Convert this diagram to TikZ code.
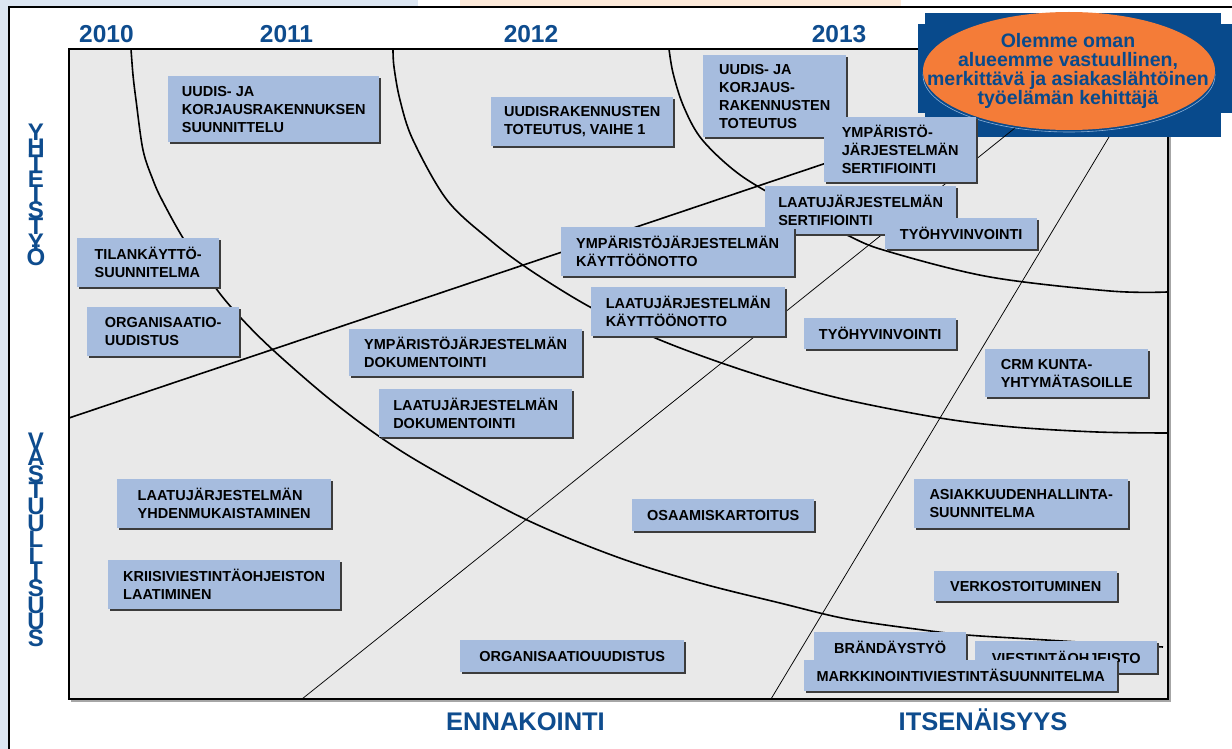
\documentclass[tikz,border=0pt]{standalone}
\usepackage{fontspec}
\setmainfont{Liberation Sans}
\usetikzlibrary{shadows}
\definecolor{bgblue}{RGB}{220,230,242}
\definecolor{bgorange}{RGB}{253,234,218}
\definecolor{plotgray}{RGB}{233,233,233}
\definecolor{boxfill}{RGB}{166,188,222}
\definecolor{boxshadow}{RGB}{60,60,60}
\definecolor{titleblue}{RGB}{14,76,142}
\definecolor{callblue}{RGB}{8,74,140}
\definecolor{callorange}{RGB}{244,124,56}
\definecolor{rimblue}{RGB}{140,176,214}
\newcommand\boxfont{\fontsize{14.5}{18}\selectfont\bfseries}
\newcommand\mkbox[6]{\node[tbox, minimum width={(#4-#2)*1pt}, minimum height={(#5-#3)*1pt}] (#1) at (#2,#3) {#6};}
\begin{document}
\begin{tikzpicture}[x=1pt,y=-1pt,
 tbox/.style={anchor=north west, fill=boxfill, inner sep=0pt, align=left, font=\boxfont,
   drop shadow={shadow xshift=1.8pt, shadow yshift=-1.8pt, fill=boxshadow, opacity=1}},
 curve/.style={line width=1.6pt, black},
 thinline/.style={line width=0.75pt, black},
 year/.style={anchor=base, text=titleblue, inner sep=0pt, font=\fontsize{24.5}{24.5}\selectfont\bfseries},
 axislabel/.style={anchor=base, text=titleblue, inner sep=0pt, font=\fontsize{25.5}{25.5}\selectfont\bfseries},
 vlet/.style={anchor=base, text=titleblue, inner sep=0pt, font=\fontsize{24}{24}\selectfont\bfseries},
 goaltext/.style={inner sep=0pt, align=center, text=callblue, font=\fontsize{19.5}{19}\selectfont\bfseries}
]
\useasboundingbox (0,0) rectangle (1232,749);
\clip (0,0) rectangle (1232,749);
% background
\fill[bgblue] (0,0) rectangle (1232,749);
\fill[white] (418,0) rectangle (460,8);
\fill[bgorange] (460,0) rectangle (901,8);
\fill[white] (901,0) rectangle (1232,8);
\draw[line width=1.8pt, fill=white] (9,7) rectangle (1250,770);
% plot area
\fill[gray!70] (71,51) rectangle (1170.5,701.5);
\draw[line width=1.8pt, fill=plotgray] (69,49) rectangle (1168,699);
% years
\node[year] (y2010) at (106.5,43) {2010};
\node[year] (y2011) at (286.5,43) {2011};
\node[year] (y2012) at (531,43) {2012};
\node[year] (y2013) at (839,43) {2013};
% axis labels
\node[axislabel] (ennakointi) at (525.5,730) {ENNAKOINTI};
\node[axislabel] (itsenaisyys) at (983,730) {ITSENÄISYYS};
\foreach \c [count=\i from 0] in {Y,H,T,E,I,S,T,Y,Ö}
  \node[vlet] (yh\i) at (36,140.2+15.7*\i) {\c};
\foreach \c [count=\i from 0] in {V,A,S,T,U,U,L,L,I,S,U,U,S}
  \node[vlet] (va\i) at (36,449.2+16.4*\i) {\c};
% curves
\draw[curve] plot[smooth, tension=0.55] coordinates {(131,49) (133,75) (136,100) (143,150) (153,180) (162,200) (183,238) (215,287) (240,317) (273,350) (327,397) (380,437) (433,470) (527,520) (617,557) (700,583) (780,603) (847,619) (923,630) (967,635) (1030,639) (1095,643) (1163,647)};
\draw[curve] plot[smooth, tension=0.55] coordinates {(393,49) (394,67) (400,100) (413,140) (447,200) (490,240) (530,270) (590,307) (653,337) (713,360) (780,382) (847,400) (940,418) (1013,427) (1097,432) (1167,433)};
\draw[curve] plot[smooth, tension=0.55] coordinates {(669,49) (673,73) (683,105) (700,137) (730,167) (764,190) (847,235) (890,252) (990,277) (1110,291) (1167,292)};
\coordinate (tka) at (69,418);
\coordinate (tkb) at (960,118);
\draw[curve] (tka) -- (tkb);
% callout background
\fill[callblue] (925,13) rectangle (1221,137);
\fill[callblue] (918,24) rectangle (1232,113);
% thin lines
\coordinate (l1a) at (302,699);
\coordinate (l1b) at (1015,128);
\coordinate (l2a) at (771,699);
\coordinate (l2b) at (1109,137);
\draw[thinline] (l1a) -- (l1b);
\draw[thinline] (l2a) -- (l2b);
% goal ellipse
\draw[rimblue, line width=0.6pt] (1069,75) ellipse (146 and 57);
\fill[callorange] (1069,71) ellipse (146 and 59);
\node[goaltext] (goal) at (1068,70.5) {Olemme oman\\alueemme vastuullinen,\\merkittävä ja asiakaslähtöinen\\työelämän kehittäjä};
% boxes
\mkbox{b1}{168}{76}{379}{142}{UUDIS- JA\\KORJAUSRAKENNUKSEN\\SUUNNITTELU}
\mkbox{b2}{491}{97}{673}{146}{UUDISRAKENNUSTEN\\TOTEUTUS, VAIHE 1}
\mkbox{b3}{703}{55}{846}{137}{UUDIS- JA\\KORJAUS-\\RAKENNUSTEN\\TOTEUTUS}
\mkbox{b4}{824}{117}{976}{182}{YMPÄRISTÖ-\\JÄRJESTELMÄN\\SERTIFIOINTI}
\mkbox{b5}{765}{186}{956}{234}{LAATUJÄRJESTELMÄN\\SERTIFIOINTI}
\mkbox{b6}{885}{218}{1037}{249}{TYÖHYVINVOINTI}
\mkbox{b7}{77}{238}{219}{287}{TILANKÄYTTÖ-\\SUUNNITELMA}
\mkbox{b8}{561}{227}{794}{276}{YMPÄRISTÖJÄRJESTELMÄN\\KÄYTTÖÖNOTTO}
\mkbox{b9}{87}{307}{239}{356}{ORGANISAATIO-\\UUDISTUS}
\mkbox{b10}{591}{287}{785}{336}{LAATUJÄRJESTELMÄN\\KÄYTTÖÖNOTTO}
\mkbox{b11}{804}{318}{956}{349}{TYÖHYVINVOINTI}
\mkbox{b12}{349}{329}{582}{376}{YMPÄRISTÖJÄRJESTELMÄN\\DOKUMENTOINTI}
\mkbox{b13}{985}{349}{1148}{397}{CRM KUNTA-\\YHTYMÄTASOILLE}
\mkbox{b14}{379}{389}{572}{437}{LAATUJÄRJESTELMÄN\\DOKUMENTOINTI}
\mkbox{b15}{117}{479}{331}{528}{LAATUJÄRJESTELMÄN\\YHDENMUKAISTAMINEN}
\mkbox{b16}{632}{499}{814}{531}{OSAAMISKARTOITUS}
\mkbox{b17}{914}{479}{1128}{528}{ASIAKKUUDENHALLINTA-\\SUUNNITELMA}
\mkbox{b18}{108}{560}{340}{609}{KRIISIVIESTINTÄOHJEISTON\\LAATIMINEN}
\mkbox{b19}{934}{571}{1117}{601}{VERKOSTOITUMINEN}
\mkbox{b20}{814}{632}{966}{662}{BRÄNDÄYSTYÖ}
\mkbox{b21}{975}{641}{1157}{673}{VIESTINTÄOHJEISTO}
\mkbox{b22}{804}{660}{1117}{691}{MARKKINOINTIVIESTINTÄSUUNNITELMA}
\mkbox{b23}{460}{640}{684}{672}{ORGANISAATIOUUDISTUS}
\end{tikzpicture}
\end{document}
